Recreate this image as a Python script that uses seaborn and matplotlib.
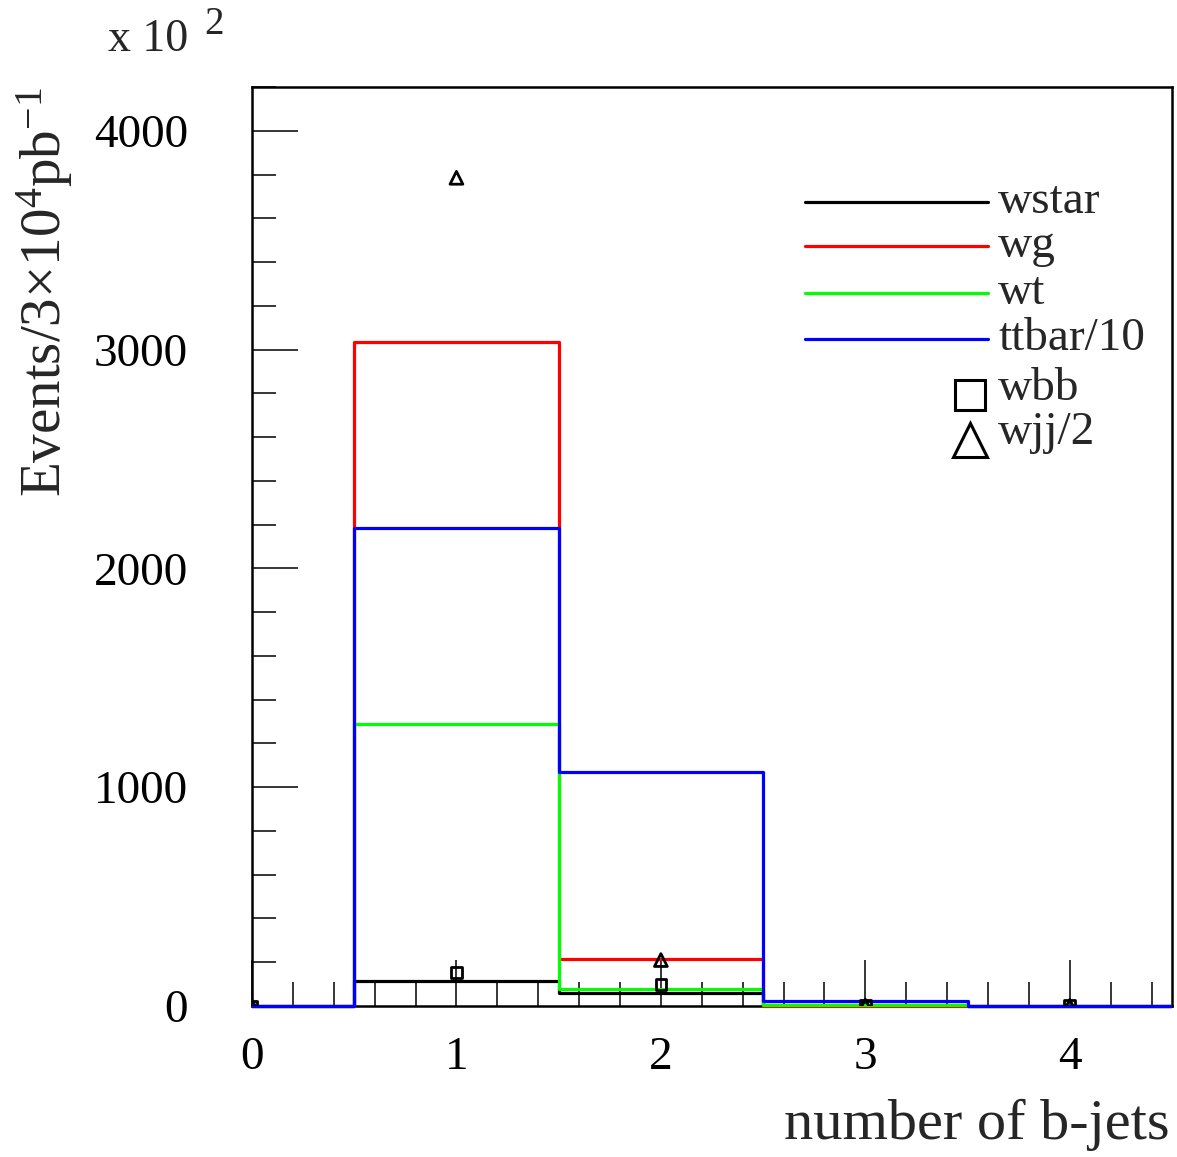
import matplotlib
matplotlib.use("Agg")
import matplotlib.pyplot as plt
import seaborn as sns
from matplotlib.ticker import MultipleLocator
from matplotlib.transforms import Bbox, TransformedBbox

# Number of b-tagged jets per event, one bin per integer
n_bjets = [0, 1, 2, 3, 4]

# Histogram contents (events / 3x10^4 pb^-1, in units of 10^2)
wstar = [0, 116, 61, 3, 0]
wg = [0, 3034, 213, 0, 0]
wt = [0, 1287, 77, 4, 0]
ttbar_over_10 = [0, 2186, 1070, 22, 0]

# Marker-drawn samples
wbb = [0, 154, 99, 3, 2]
wjj_over_2 = [0, 3785, 210, 2, 1]

sns.set_style("ticks")
plt.rcParams["font.family"] = ["Liberation Serif", "DejaVu Serif"]
plt.rcParams["mathtext.fontset"] = "custom"
plt.rcParams["mathtext.rm"] = "Liberation Serif"
plt.rcParams["mathtext.it"] = "Liberation Serif:italic"

W, H = 1177, 1157
fig = plt.figure(figsize=(W / 100, H / 100), dpi=100)
ax = fig.add_axes([252 / W, 1 - 1006 / H, 920 / W, 919 / H])

hists = [
    ("wstar", wstar, "#000000"),
    ("wg", wg, "#ff0000"),
    ("wt", wt, "#00ff00"),
    ("ttbar/10", ttbar_over_10, "#0000ff"),
]
for name, vals, col in hists:
    sns.histplot(x=n_bjets, weights=vals, discrete=True, element="step",
                 fill=False, color=col, linewidth=2.3, ax=ax, zorder=3)

# Let the step outlines sit fully on top of the bottom frame line
clip = TransformedBbox(Bbox([[0, -0.004], [1, 1]]), ax.transAxes)
for line in ax.lines:
    line.set_clip_path(None)
    line.set_clip_box(clip)

sns.scatterplot(x=n_bjets, y=wbb, marker="s", s=60, facecolor="none",
                edgecolor="black", linewidth=2.0, ax=ax, zorder=5)
sns.scatterplot(x=n_bjets, y=wjj_over_2, marker="^", s=85, facecolor="none",
                edgecolor="black", linewidth=2.0, ax=ax, zorder=5)

ax.set_xlim(0, 4.5)
ax.set_ylim(0, 4200)
ax.set_xlabel("")
ax.set_ylabel("")

ax.xaxis.set_major_locator(MultipleLocator(1))
ax.xaxis.set_minor_locator(MultipleLocator(0.2))
ax.yaxis.set_major_locator(MultipleLocator(1000))
ax.yaxis.set_minor_locator(MultipleLocator(200))
ax.tick_params(which="both", direction="in", top=False, right=False,
               colors="black", labelsize=34)
ax.tick_params(which="major", length=33, width=1.1)
ax.tick_params(which="minor", length=17, width=1.1)
ax.tick_params(axis="y", which="major", pad=46)
ax.tick_params(axis="x", which="major", pad=22)
for sp in ax.spines.values():
    sp.set_linewidth(1.8)
    sp.set_color("black")
    sp.set_visible(True)

# Legend drawn in axes coordinates
leg_y = [0.8749, 0.827, 0.776, 0.726]
for (name, vals, col), yy in zip(hists, leg_y):
    ax.plot([0.601, 0.800], [yy, yy], color=col, linewidth=2.3,
            transform=ax.transAxes, clip_on=False)
    ax.text(0.811, yy, name, fontsize=34, va="center", ha="left",
            transform=ax.transAxes)
ax.plot([0.780], [0.665], marker="s", markersize=22, markerfacecolor="none",
        markeredgecolor="black", markeredgewidth=2.2, transform=ax.transAxes,
        clip_on=False)
ax.text(0.811, 0.672, "wbb", fontsize=34, va="center", ha="left",
        transform=ax.transAxes)
ax.plot([0.780], [0.616], marker="^", markersize=24, markerfacecolor="none",
        markeredgecolor="black", markeredgewidth=2.2, transform=ax.transAxes,
        clip_on=False)
ax.text(0.811, 0.624, "wjj/2", fontsize=34, va="center", ha="left",
        transform=ax.transAxes)

# Axis titles and exponent
fig.text(1170 / W, 1 - 1125 / H, "number of b-jets", fontsize=42,
         ha="right", va="center")
fig.text(45 / W, 1 - 87 / H, r"Events/3$\times$10$^{4}$pb$^{-1}$",
         fontsize=41, rotation=90, ha="center", va="top")
fig.text(108 / W, 1 - 40 / H, "x 10", fontsize=33, ha="left", va="center")
fig.text(204 / W, 1 - 24 / H, "2", fontsize=28, ha="left", va="center")

fig.savefig("out.png", dpi=100)
